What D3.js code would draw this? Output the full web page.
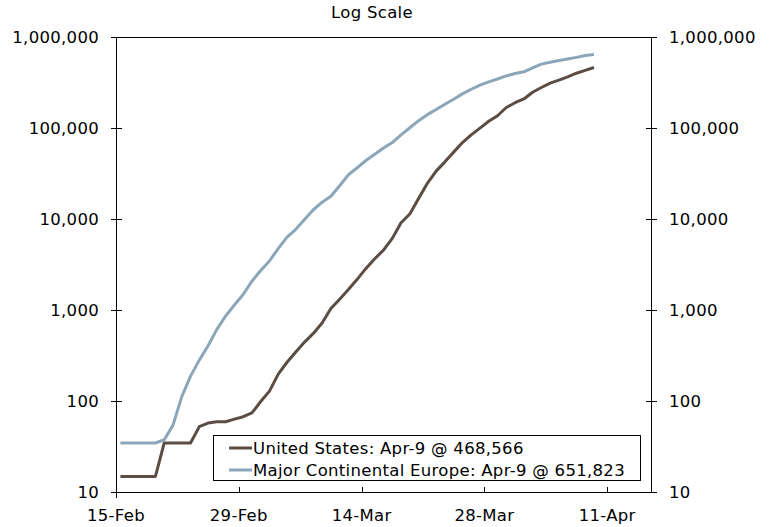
<!DOCTYPE html>
<html>
<head>
<meta charset="utf-8">
<script src="https://cdn.jsdelivr.net/npm/d3@7"></script>
<style>
  body { margin: 0; background: #fff; }
  svg text { font-family: Verdana, "DejaVu Sans", sans-serif; font-size: 16.5px; letter-spacing: 0.3px; fill: #000; }
</style>
</head>
<body>
<div class="chart"></div>
<script>
// daily cumulative cases, 15-Feb .. 9-Apr 2020
var startDate = "2020-02-15";
var endDate = "2020-04-09";

var usCases = [
    15, 15, 15, 15, 15, 35, 35, 35, 35, 53,
    58, 60, 60, 64, 68, 75, 100, 130, 200, 270,
    350, 450, 560, 730, 1050, 1330, 1700, 2200, 2900, 3700,
    4600, 6200, 9200, 11500, 17000, 25000, 34000, 43000, 55000, 70000,
    85000, 101000, 120000, 138000, 170000, 192000, 211000, 250000, 282000, 315000,
    340000, 370000, 405000, 435000, 468566
];

var europeCases = [
    35, 35, 35, 35, 35, 38, 55, 113, 190, 285,
    410, 620, 870, 1150, 1500, 2100, 2750, 3500, 4800, 6400,
    7800, 10000, 12800, 15500, 18000, 23500, 31000, 37000, 44500, 52000,
    61000, 70000, 85000, 102000, 122000, 142000, 162000, 185000, 210000, 240000,
    270000, 300000, 325000, 350000, 378000, 402000, 420000, 465000, 510000, 535000,
    558000, 580000, 605000, 635000, 651823
];

var seriesNames = [
    "United States: Apr-9 @ 468,566",
    "Major Continental Europe: Apr-9 @ 651,823"
];
var seriesColors = ["#5b4d44", "#8ba6b8"];

var yTicks = [10, 100, 1000, 10000, 100000, 1000000];
var xTickLabels = ["2020-02-15", "2020-02-29", "2020-03-14", "2020-03-28", "2020-04-11"];

var width = 770, height = 527;
var plotLeft = 116, plotRight = 651, plotTop = 37.5, plotBottom = 492.5;

var parse = d3.utcParse("%Y-%m-%d");
var days = d3.utcDay.range(parse(startDate), d3.utcDay.offset(parse(endDate), 1));

var x = d3.scaleUtc()
    .domain([parse("2020-02-15"), parse("2020-04-16")])
    .range([plotLeft, plotRight]);

var y = d3.scaleLog()
    .domain([10, 1000000])
    .range([plotBottom, plotTop]);

var svg = d3.select(".chart")
    .append("svg")
    .attr("width", width)
    .attr("height", height);

// title
svg.append("text")
    .attr("x", 372)
    .attr("y", 18)
    .attr("text-anchor", "middle")
    .text("Log Scale");

// frame
var frame = svg.append("g")
    .attr("stroke", "#000")
    .attr("stroke-width", 1)
    .attr("shape-rendering", "crispEdges");

frame.append("line").attr("x1", plotLeft + 0.5).attr("x2", plotLeft + 0.5).attr("y1", plotTop).attr("y2", plotBottom + 5);
frame.append("line").attr("x1", plotRight + 0.5).attr("x2", plotRight + 0.5).attr("y1", plotTop).attr("y2", plotBottom);
frame.append("line").attr("x1", plotLeft).attr("x2", plotRight + 1).attr("y1", plotTop).attr("y2", plotTop);
frame.append("line").attr("x1", plotLeft).attr("x2", plotRight + 1).attr("y1", plotBottom).attr("y2", plotBottom);

// y ticks, both sides
yTicks.forEach(function (v) {
    frame.append("line").attr("x1", plotLeft - 5).attr("x2", plotLeft + 6).attr("y1", y(v)).attr("y2", y(v));
    frame.append("line").attr("x1", plotRight - 5).attr("x2", plotRight + 6).attr("y1", y(v)).attr("y2", y(v));
});

var fmt = d3.format(",");
svg.selectAll(".ylab-left")
    .data(yTicks)
    .enter().append("text")
    .attr("x", 99)
    .attr("y", function (d) { return y(d); })
    .attr("dy", "0.35em")
    .attr("text-anchor", "end")
    .text(fmt);

svg.selectAll(".ylab-right")
    .data(yTicks)
    .enter().append("text")
    .attr("x", 669)
    .attr("y", function (d) { return y(d); })
    .attr("dy", "0.35em")
    .text(fmt);

// x ticks
var xFmt = d3.utcFormat("%-d-%b");
xTickLabels.forEach(function (s) {
    var d = parse(s);
    var px = Math.round(x(d)) + 0.5;
    frame.append("line").attr("x1", px).attr("x2", px).attr("y1", plotBottom - 6).attr("y2", plotBottom);
    svg.append("text")
        .attr("x", x(d))
        .attr("y", 521)
        .attr("text-anchor", "middle")
        .text(xFmt(d));
});

// lines, each point at midday
var line = d3.line()
    .x(function (d) { return x(d3.utcHour.offset(d.date, 12)); })
    .y(function (d) { return y(d.value); });

[usCases, europeCases].forEach(function (vals, i) {
    var pts = vals.map(function (v, j) { return { date: days[j], value: v }; });
    svg.append("path")
        .datum(pts)
        .attr("fill", "none")
        .attr("stroke", seriesColors[i])
        .attr("stroke-width", 3)
        .attr("stroke-linejoin", "round")
        .attr("d", line);
});

// legend
var legend = svg.append("g");
legend.append("rect")
    .attr("x", 213.5)
    .attr("y", 435.5)
    .attr("width", 427)
    .attr("height", 45)
    .attr("fill", "#fff")
    .attr("stroke", "#000");

seriesNames.forEach(function (name, i) {
    var cy = 448 + i * 22;
    legend.append("line")
        .attr("x1", 229).attr("x2", 252)
        .attr("y1", cy).attr("y2", cy)
        .attr("stroke", seriesColors[i])
        .attr("stroke-width", 3);
    legend.append("text")
        .attr("x", 253)
        .attr("y", cy)
        .attr("dy", "0.35em")
        .text(name);
});
</script>
</body>
</html>
